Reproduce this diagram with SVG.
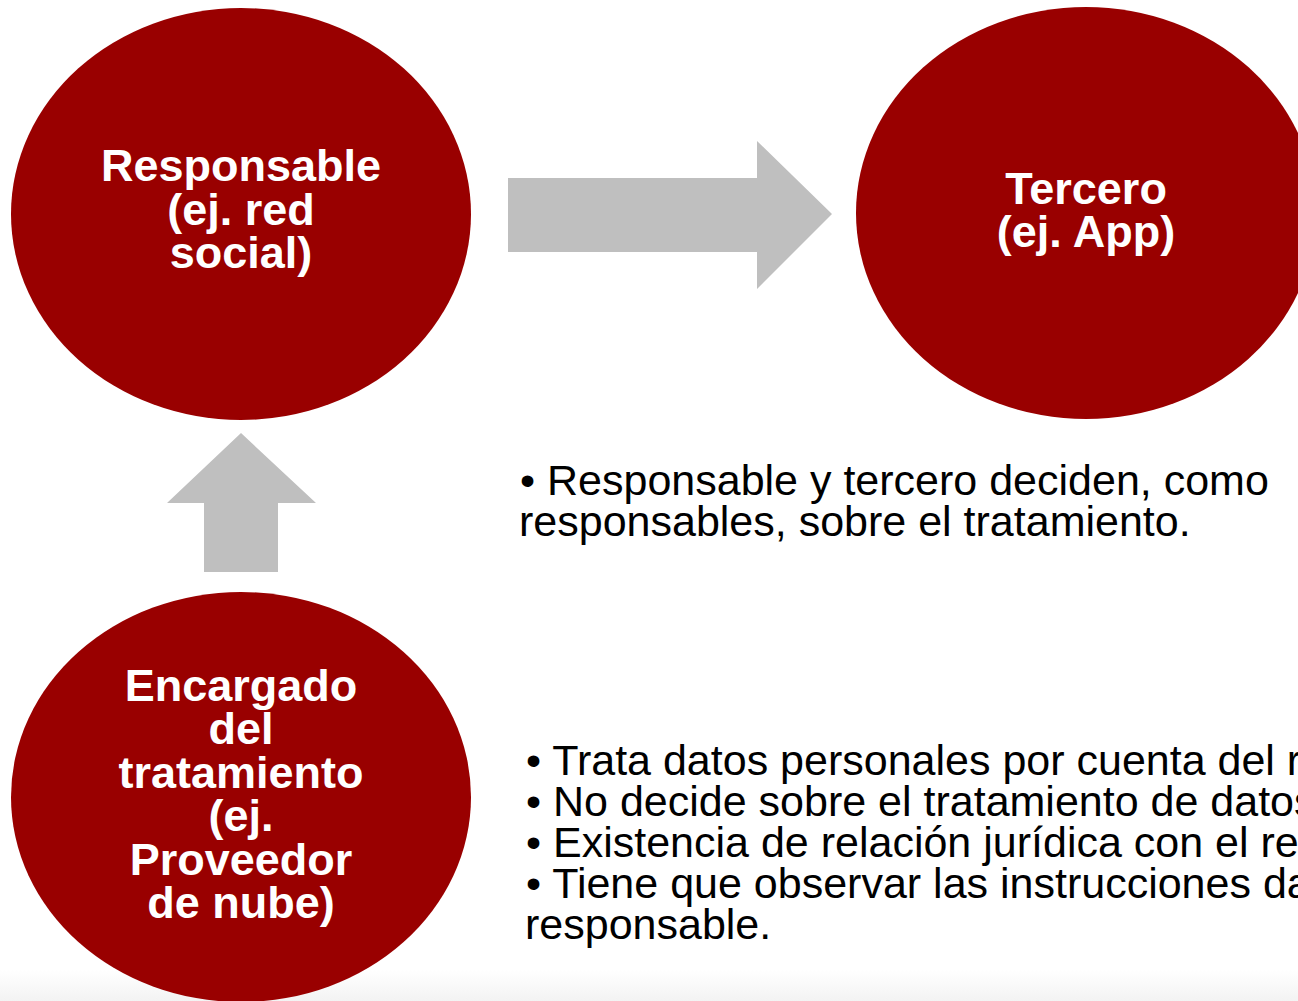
<svg xmlns="http://www.w3.org/2000/svg" width="1298" height="1001" viewBox="0 0 1298 1001">
<defs>
<linearGradient id="floor" x1="0" y1="0" x2="0" y2="1">
<stop offset="0" stop-color="#ffffff"/>
<stop offset="1" stop-color="#f3f3f3"/>
</linearGradient>
<style>
.node{fill:#990000}
.lbl{font-family:"Liberation Sans",Arial,sans-serif;font-weight:bold;font-size:45px;fill:#ffffff;text-anchor:middle}
.arrow{fill:#bfbfbf}
.body{font-family:"Liberation Sans",Arial,sans-serif;font-size:43px;fill:#000000}
</style>
</defs>
<rect x="0" y="0" width="1298" height="1001" fill="#ffffff"/>
<rect x="0" y="970" width="1298" height="31" fill="url(#floor)"/>
<g id="connectors">
<polygon class="arrow" points="508,178 757,178 757,141 832,214 757,289 757,252 508,252"/>
<polygon class="arrow" points="204,572 204,503 167,503 241,433 316,503 278,503 278,572"/>
</g>
<g id="node-responsable">
<ellipse class="node" cx="241" cy="214" rx="230" ry="206"/>
<text class="lbl"><tspan x="241" y="181">Responsable</tspan><tspan x="241" y="225">(ej. red</tspan><tspan x="241" y="268">social)</tspan></text>
</g>
<g id="node-tercero">
<ellipse class="node" cx="1086" cy="213" rx="230" ry="206"/>
<text class="lbl"><tspan x="1086" y="204">Tercero</tspan><tspan x="1086" y="247">(ej. App)</tspan></text>
</g>
<g id="node-encargado">
<ellipse class="node" cx="241" cy="797" rx="230" ry="205"/>
<text class="lbl"><tspan x="241" y="701">Encargado</tspan><tspan x="241" y="744">del</tspan><tspan x="241" y="788">tratamiento</tspan><tspan x="241" y="831">(ej.</tspan><tspan x="241" y="875">Proveedor</tspan><tspan x="241" y="918">de nube)</tspan></text>
</g>
<g id="text-responsables">
<text class="body"><tspan x="520" y="495">• Responsable y tercero deciden, como</tspan><tspan x="519" y="536">responsables, sobre el tratamiento.</tspan></text>
</g>
<g id="text-encargado">
<text class="body"><tspan x="526" y="775">• Trata datos personales por cuenta del responsable.</tspan><tspan x="526" y="816">• No decide sobre el tratamiento de datos personales.</tspan><tspan x="526" y="857">• Existencia de relación jurídica con el responsable.</tspan><tspan x="526" y="898">• Tiene que observar las instrucciones dadas por el</tspan><tspan x="525" y="939">responsable.</tspan></text>
</g>
</svg>
